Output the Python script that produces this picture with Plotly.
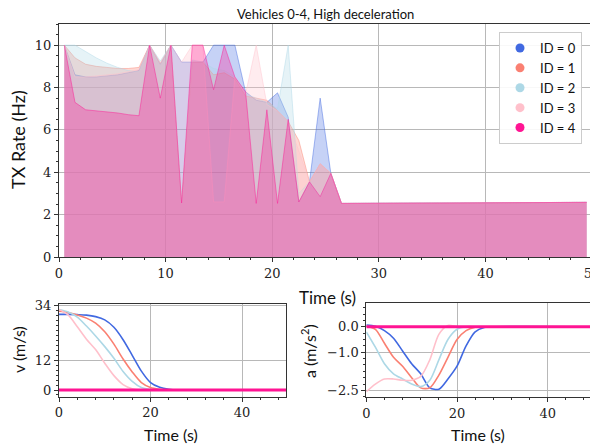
import plotly.graph_objects as go

# ---------------- data ----------------
ids = ["ID = 0", "ID = 1", "ID = 2", "ID = 3", "ID = 4"]
colors = ["#4169E1", "#FA8072", "#ADD8E6", "#FFC0CB", "#FF1493"]

# TX rate time stamps (s)
t_tx = [0.5, 1.5, 2.5, 3.5, 4.5, 5.5, 6.5, 7.5, 8.5, 9.5, 10.5, 11.5, 12.5, 13.5,
        14.5, 15.5, 16.5, 17.5, 18.5, 19.5, 20.5, 21.5, 22.5, 23.5, 24.5, 25.5,
        26.5, 49.5]
tx_id0 = [10, 8.6, 8.5, 8.5, 8.55, 8.6, 8.7, 8.8, 10, 9.1, 10, 9.2, 9.2, 9.2,
          10, 10, 10, 7.8, 7.4, 7.3, 7.75, 6.6, 2.6, 3.55, 7.5, 3.95, 2.53, 2.58]
tx_id1 = [10, 9.4, 9.1, 9.0, 8.95, 8.9, 8.9, 8.95, 10, 9.15, 10, 2.55, 9.2, 9.2,
          8.6, 8.7, 8.4, 7.6, 7.5, 7.4, 6.9, 6.4, 5.5, 3.55, 4.4, 3.95, 2.53, 2.58]
tx_id2 = [10, 10, 9.7, 9.4, 9.15, 8.95, 8.8, 8.75, 10, 9.25, 10, 2.55, 9.3, 9.2,
          8.9, 8.8, 8.5, 7.7, 7.5, 7.3, 7.0, 10, 3.0, 3.55, 2.85, 3.95, 2.53, 2.58]
tx_id3 = [10, 8.5, 8.5, 8.55, 8.6, 8.65, 8.75, 8.85, 10, 9.15, 10, 9.2, 10, 10,
          2.6, 2.6, 8.5, 7.7, 10, 7.2, 6.9, 6.4, 5.0, 3.55, 4.4, 3.95, 2.53, 2.58]
tx_id4 = [10, 7.3, 6.95, 6.9, 6.87, 6.8, 6.72, 6.67, 10, 7.5, 10, 2.55, 10, 10,
          7.9, 10, 8.5, 7.8, 2.53, 6.95, 2.53, 6.5, 2.6, 3.55, 2.85, 3.95, 2.53, 2.58]
tx_rates = [tx_id0, tx_id1, tx_id2, tx_id3, tx_id4]

# kinematics time stamps (s)
t_kin = [0, 2, 4, 6, 8, 10, 12, 14, 16, 18, 20, 22, 24, 26, 28, 50]
v_id0 = [30.5, 30.5, 30.4, 30.2, 29.6, 28.3, 25.3, 20.3, 14.0, 7.6, 3.0, 1.1, 0.3, 0, 0, 0]
v_id1 = [31.8, 31.3, 30.3, 29.0, 27.0, 23.5, 18.5, 12.5, 7.3, 3.0, 1.0, 0.3, 0, 0, 0, 0]
v_id2 = [32.5, 31.5, 29.4, 25.8, 21.8, 17.5, 12.8, 7.5, 3.5, 1.0, 0.2, 0, 0, 0, 0, 0]
v_id3 = [32.5, 30.3, 25.5, 20.5, 16.3, 10.8, 5.8, 2.2, 0.5, 0, 0, 0, 0, 0, 0, 0]
v_id4 = [0, 0, 0, 0, 0, 0, 0, 0, 0, 0, 0, 0, 0, 0, 0, 0]
speeds = [v_id0, v_id1, v_id2, v_id3, v_id4]

a_id0 = [0.07, 0.02, -0.15, -0.45, -0.95, -1.45, -1.85, -2.4, -2.45, -2.05, -1.55, -0.75, -0.2, -0.03, 0, 0]
a_id1 = [0.02, -0.1, -0.65, -1.2, -1.55, -2.0, -2.4, -2.4, -1.9, -1.2, -0.5, -0.15, -0.02, 0, 0, 0]
a_id2 = [-0.2, -0.8, -1.45, -1.85, -2.05, -2.25, -2.35, -2.1, -1.3, -0.5, -0.1, 0, 0, 0, 0, 0]
a_id3 = [-2.55, -2.25, -2.05, -2.05, -2.1, -2.1, -1.95, -1.3, -0.3, 0.05, 0, 0, 0, 0, 0, 0]
a_id4 = [0, 0, 0, 0, 0, 0, 0, 0, 0, 0, 0, 0, 0, 0, 0, 0]
accels = [a_id0, a_id1, a_id2, a_id3, a_id4]

v_ticks = [0, 12, 34]
a_ticks = [0.0, -1.0, -2.5]


def rgba(hexc, a):
    h = hexc.lstrip("#")
    r, g, b = int(h[0:2], 16), int(h[2:4], 16), int(h[4:6], 16)
    return f"rgba({r},{g},{b},{a})"


W, H = 598, 447
OFF = 8  # page body margin in the browser


def px(x):
    return (x - OFF) / W


def py(y):
    return 1 - (y - OFF) / H


fig = go.Figure()

for name, col, ys in zip(ids, colors, tx_rates):
    fig.add_trace(go.Scatter(x=t_tx, y=ys, mode="lines", fill="tozeroy",
                             fillcolor=rgba(col, 0.3),
                             line=dict(color=rgba(col, 0.45), width=1),
                             showlegend=False, xaxis="x", yaxis="y"))
# legend entries
for name, col in zip(ids, colors):
    fig.add_trace(go.Scatter(x=[None], y=[None], mode="markers", name=name,
                             marker=dict(color=col, size=9, symbol="circle"),
                             xaxis="x", yaxis="y"))

for i, (col, ys) in enumerate(zip(colors, speeds)):
    fig.add_trace(go.Scatter(x=t_kin, y=ys, mode="lines", showlegend=False,
                             line=dict(color=col, width=3 if i == 4 else 1.6,
                                       shape="spline", smoothing=0.8),
                             xaxis="x2", yaxis="y2"))
for i, (col, ys) in enumerate(zip(colors, accels)):
    fig.add_trace(go.Scatter(x=t_kin, y=ys, mode="lines", showlegend=False,
                             line=dict(color=col, width=3 if i == 4 else 1.6,
                                       shape="spline", smoothing=0.8),
                             xaxis="x3", yaxis="y3"))

tickfont = dict(family="DejaVu Serif", size=13, color="#222")
labfont = "Lato"

common = dict(showline=True, mirror=True, linecolor="#333", linewidth=1,
              ticks="outside", ticklen=4, tickcolor="#333",
              showgrid=True, gridcolor="#b8b8b8", gridwidth=1,
              zeroline=False, tickfont=tickfont, automargin=False)

fig.update_layout(
    width=W, height=H,
    margin=dict(l=0, r=0, t=0, b=0, autoexpand=False),
    paper_bgcolor="white", plot_bgcolor="white",
    xaxis=dict(domain=[px(59), px(592)], range=[0, 50], dtick=10,
               minor=dict(ticks="outside", dtick=2, ticklen=2, tickcolor="#333"),
               anchor="y", **common),
    yaxis=dict(domain=[py(257), py(24)], range=[0, 11], dtick=2,
               minor=dict(ticks="outside", dtick=0.5, ticklen=2, tickcolor="#333"),
               anchor="x", **common),
    xaxis2=dict(domain=[px(59), px(286)], range=[0, 49.6], dtick=20,
                minor=dict(ticks="outside", dtick=4, ticklen=2, tickcolor="#333"),
                anchor="y2", **common),
    yaxis2=dict(domain=[py(396.7), py(304)], range=[-2.7, 34.7],
                tickvals=v_ticks,
                minor=dict(ticks="outside", dtick=2, ticklen=2, tickcolor="#333"),
                anchor="x2", **common),
    xaxis3=dict(domain=[px(366.3), px(591.7)], range=[0, 49.7], dtick=20,
                minor=dict(ticks="outside", dtick=4, ticklen=2, tickcolor="#333"),
                anchor="y3", **common),
    yaxis3=dict(domain=[py(397.3), py(303.3)], range=[-2.77, 0.92],
                tickvals=a_ticks, tickformat=".1f",
                minor=dict(ticks="outside", dtick=0.25, ticklen=2, tickcolor="#333"),
                anchor="x3", **common),
    legend=dict(x=px(499), y=py(32), xanchor="left", yanchor="top",
                bgcolor="rgba(255,255,255,0.9)", bordercolor="#cccccc", borderwidth=1,
                font=dict(family=labfont, size=13, color="#111"),
                itemwidth=30, tracegroupgap=0),
    showlegend=True,
)

ann = [
    dict(text="Vehicles 0-4, High deceleration", x=325, y=14, size=13, angle=0),
    dict(text="TX Rate (Hz)", x=18, y=140, size=18, angle=-90),
    dict(text="Time (s)", x=327, y=297, size=17, angle=0),
    dict(text="v (m/s)", x=18, y=350, size=16, angle=-90),
    dict(text="Time (s)", x=171, y=434, size=16, angle=0),
    dict(text="a (m/s<sup>2</sup>)", x=308, y=351, size=16, angle=-90),
    dict(text="Time (s)", x=478, y=434, size=16, angle=0),
]
for a in ann:
    fig.add_annotation(text=a["text"], x=px(a["x"]), y=py(a["y"]), xref="paper", yref="paper",
                       xanchor="center", yanchor="middle", showarrow=False,
                       textangle=a["angle"],
                       font=dict(family=labfont, size=a["size"], color="#111"))

fig.write_html("out.html")
